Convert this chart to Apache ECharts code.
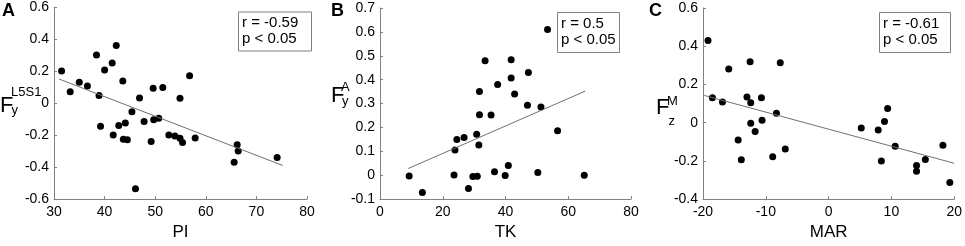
<!DOCTYPE html>
<html>
<head>
<meta charset="utf-8">
<script src="https://cdn.jsdelivr.net/npm/echarts@6/dist/echarts.min.js"></script>
<style>
html,body{margin:0;padding:0;background:#fff;}
#chart{width:965px;height:246px;}
</style>
</head>
<body>
<div id="chart"></div>
<script>
// panel A: PI vs Fy L5S1
var piA = [31.5,33.2,35.0,36.6,38.4,38.9,40.0,41.5,42.3,43.6,45.4,46.9,47.8,49.6,49.7,50.7,51.5,56.8,54.9,
	39.2,41.7,42.8,44.1,43.7,44.5,49.2,46.1,52.7,53.9,54.9,55.4,57.9,66.2,66.4,65.6,74.1];
var fyL5S1 = [0.20,0.07,0.13,0.107,0.30,0.047,0.206,0.25,0.36,0.137,-0.055,0.032,-0.115,0.093,-0.105,-0.095,0.097,0.17,0.03,
	-0.145,-0.20,-0.14,-0.125,-0.226,-0.23,-0.24,-0.535,-0.20,-0.206,-0.22,-0.246,-0.218,-0.26,-0.30,-0.37,-0.34];
var fitAx = [31.0,75.2];
var fitAy = [0.15,-0.39];

// panel B: TK vs Fy A
var tkB = [9.3,13.5,23.6,23.9,24.5,26.8,28.2,29.6,31.0,30.8,31.5,31.7,35.4,31.7,33.5,37.5,36.5,39.9,40.9,
	41.8,41.8,42.9,47.3,47.0,51.3,50.3,53.4,56.6,65.1];
var fyA = [-0.003,-0.072,0.001,0.106,0.149,0.158,-0.056,-0.005,-0.004,0.171,0.126,0.253,0.252,0.35,0.479,0.38,0.015,-0.001,0.041,
	0.483,0.407,0.34,0.43,0.293,0.286,0.011,0.61,0.186,0.0];
var fitBx = [9.0,65.4];
var fitBy = [0.028,0.352];

// panel C: MAR vs Fz M
var marC = [-19.2,-18.5,-16.9,-15.9,-12.5,-13.0,-12.4,-10.7,-7.7,-8.3,-12.4,-10.6,-11.7,-14.4,-13.9,-8.9,-6.9,
	5.2,7.9,8.9,9.4,10.6,8.4,14.0,14.0,15.4,18.2,19.3];
var fzM = [0.43,0.13,0.108,0.281,0.319,0.134,0.104,0.131,0.314,0.049,-0.003,0.012,-0.046,-0.091,-0.194,-0.179,-0.138,
	-0.028,-0.039,0.006,0.074,-0.124,-0.20,-0.224,-0.254,-0.193,-0.118,-0.313];
var fitCx = [-19.8,20];
var fitCy = [0.1425,-0.2125];

var statsText = [['r = -0.59','p < 0.05'],['r = 0.5','p < 0.05'],['r = -0.61','p < 0.05']];
var xNames = ['PI','TK','MAR'];

var FONT = 'Arial, "Liberation Sans", sans-serif';
var GRAY = '#808080';

function zip(a,b){
	var out = [];
	for(var i=0;i<a.length;i++) out.push([a[i],b[i]]);
	return out;
}

function xAx(idx,min,max,step,name){
	return {
		gridIndex:idx, type:'value', min:min, max:max, interval:step,
		name:name, nameLocation:'middle', nameGap:23,
		nameTextStyle:{fontFamily:FONT,fontSize:17,color:'#000',verticalAlign:'top'},
		axisLine:{onZero:false,lineStyle:{color:GRAY,width:1}},
		axisTick:{inside:true,length:3,lineStyle:{color:GRAY}},
		axisLabel:{fontFamily:FONT,fontSize:14,color:'#000',margin:6},
		splitLine:{show:false}
	};
}
function yAx(idx,min,max,step){
	return {
		gridIndex:idx, type:'value', min:min, max:max, interval:step,
		axisLine:{show:true,onZero:false,lineStyle:{color:GRAY,width:1}},
		axisTick:{show:true,inside:true,length:3,lineStyle:{color:GRAY}},
		axisLabel:{fontFamily:FONT,fontSize:14,color:'#000',margin:5,
			formatter:function(v){ return String(Math.round(v*10)/10); }},
		splitLine:{show:false}
	};
}
function dots(idx,xs,ys){
	return {type:'scatter',xAxisIndex:idx,yAxisIndex:idx,data:zip(xs,ys),
		symbolSize:7,itemStyle:{color:'#000',opacity:1},silent:true};
}
function fit(idx,xs,ys){
	return {type:'line',xAxisIndex:idx,yAxisIndex:idx,data:zip(xs,ys),
		symbol:'none',lineStyle:{color:'#707070',width:1},silent:true};
}
function txt(x,y,s,size,bold){
	return {type:'text',x:x,y:y,style:{text:s,fontFamily:FONT,fontSize:size,
		fontWeight:bold?'bold':'normal',fill:'#000',verticalAlign:'middle'}};
}
function statBox(x,y,w,h,lines){
	return [
		{type:'rect',shape:{x:x,y:y,width:w,height:h},style:{fill:'#fff',stroke:GRAY,lineWidth:1}},
		txt(x+3.5,y+11,lines[0],15),
		txt(x+3.5,y+27,lines[1],15)
	];
}

var graphics = [
	txt(2,11,'A',18,true), txt(331,11,'B',18,true), txt(649,11,'C',18,true),
	txt(0,106,'F',22), txt(11,92.5,'L5S1',13), txt(11.5,110,'y',13),
	txt(331,96,'F',22), txt(341,87.5,'A',13), txt(342,101,'y',13),
	txt(656,108,'F',22), txt(667,101.5,'M',13), txt(668.5,121,'z',13)
].concat(statBox(238.5,12,73,39,statsText[0]))
 .concat(statBox(557.5,12.5,62,40,statsText[1]))
 .concat(statBox(879.5,12.5,71,40,statsText[2]));

var chart = echarts.init(document.getElementById('chart'));
chart.setOption({
	animation:false,
	backgroundColor:'#fff',
	grid:[
		{left:54,top:7,width:253,height:198},
		{left:380,top:8,width:251,height:199},
		{left:703,top:8,width:253,height:200}
	],
	xAxis:[xAx(0,30,80,10,xNames[0]),xAx(1,0,80,20,xNames[1]),xAx(2,-20,20,10,xNames[2])],
	yAxis:[yAx(0,-0.6,0.6,0.2),yAx(1,-0.1,0.7,0.1),yAx(2,-0.4,0.6,0.2)],
	series:[
		dots(0,piA,fyL5S1),fit(0,fitAx,fitAy),
		dots(1,tkB,fyA),fit(1,fitBx,fitBy),
		dots(2,marC,fzM),fit(2,fitCx,fitCy)
	],
	graphic:graphics
});
</script>
</body>
</html>
